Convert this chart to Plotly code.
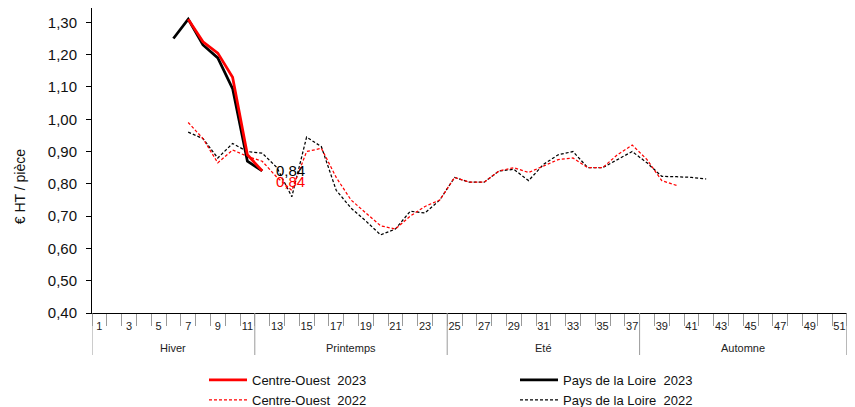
import plotly.graph_objects as go

# ---------------- data ----------------
weeks = list(range(1, 53))
week_labels = [str(w) for w in weeks if w % 2 == 1]
week_label_pos = [w for w in weeks if w % 2 == 1]

seasons = ["Hiver", "Printemps", "Eté", "Automne"]
season_first_week = [1, 12, 25, 38]
season_last_week = [11, 24, 37, 51]

co_2023_weeks = [7, 8, 9, 10, 11, 12]
co_2023 = [1.31, 1.24, 1.205, 1.13, 0.89, 0.84]

pdl_2023_weeks = [6, 7, 8, 9, 10, 11, 12]
pdl_2023 = [1.25, 1.31, 1.23, 1.19, 1.095, 0.87, 0.84]

co_2022_weeks = list(range(7, 41))
co_2022 = [0.99, 0.94, 0.865, 0.905, 0.885, 0.87, 0.82, 0.78, 0.90, 0.91,
           0.82, 0.75, 0.71, 0.67, 0.66, 0.70, 0.73, 0.75, 0.82, 0.805,
           0.805, 0.84, 0.85, 0.835, 0.855, 0.875, 0.88, 0.85, 0.85, 0.89,
           0.92, 0.875, 0.81, 0.795]

pdl_2022_weeks = list(range(7, 43))
pdl_2022 = [0.96, 0.94, 0.88, 0.925, 0.90, 0.895, 0.85, 0.76, 0.945, 0.915,
            0.78, 0.725, 0.685, 0.642, 0.66, 0.715, 0.71, 0.75, 0.82, 0.805,
            0.805, 0.84, 0.845, 0.81, 0.86, 0.89, 0.90, 0.85, 0.85, 0.875,
            0.90, 0.865, 0.823, 0.822, 0.82, 0.815]

y_ticks = [0.40, 0.50, 0.60, 0.70, 0.80, 0.90, 1.00, 1.10, 1.20, 1.30]

RED = "#ff0000"
BLACK = "#000000"
FONT = "Liberation Sans, Arial, sans-serif"

# page body adds an 8px offset; figure sized to fit the window
W, H = 847, 399
ML, MR, MT, MB = 84, 0, 0, 94
plot_h = H - MT - MB
plot_w = W - ML - MR

fig = go.Figure()

# draw order: dashed first, then solid (red on top)
fig.add_trace(go.Scatter(x=pdl_2022_weeks, y=pdl_2022, mode="lines",
                         name="Pays de la Loire\u00a0 2022", legendrank=4,
                         line=dict(color=BLACK, width=1.25, dash="3px,2px")))
fig.add_trace(go.Scatter(x=co_2022_weeks, y=co_2022, mode="lines",
                         name="Centre-Ouest\u00a0 2022", legendrank=3,
                         line=dict(color=RED, width=1.25, dash="3px,2px")))
fig.add_trace(go.Scatter(x=pdl_2023_weeks, y=pdl_2023, mode="lines",
                         name="Pays de la Loire\u00a0 2023", legendrank=2,
                         line=dict(color=BLACK, width=2.75)))
fig.add_trace(go.Scatter(x=co_2023_weeks, y=co_2023, mode="lines",
                         name="Centre-Ouest\u00a0 2023", legendrank=1,
                         line=dict(color=RED, width=2.75)))

def fmt(v):
    return f"{v:.2f}".replace(".", ",")

# data labels at last 2023 points
fig.add_annotation(x=pdl_2023_weeks[-1], y=pdl_2023[-1], xref="x", yref="y",
                   text=fmt(pdl_2023[-1]), showarrow=False, xanchor="left",
                   yanchor="middle", xshift=12, yshift=0,
                   font=dict(family=FONT, size=15, color=BLACK))
fig.add_annotation(x=co_2023_weeks[-1], y=co_2023[-1], xref="x", yref="y",
                   text=fmt(co_2023[-1]), showarrow=False, xanchor="left",
                   yanchor="middle", xshift=12, yshift=-11,
                   font=dict(family=FONT, size=15, color=RED))

# season grouping on the category axis
div_bottom = -42 / plot_h
label_y = -35 / plot_h
boundaries = [season_first_week[0] - 0.5] + [w + 0.5 for w in season_last_week]
for b in boundaries:
    fig.add_shape(type="line", xref="x", yref="paper", x0=b, x1=b,
                  y0=0, y1=div_bottom, line=dict(color="#9a9a9a", width=1))
for name, a, b in zip(seasons, season_first_week, season_last_week):
    fig.add_annotation(x=(a + b) / 2, y=label_y, xref="x", yref="paper",
                       text=name, showarrow=False, yanchor="middle",
                       font=dict(family=FONT, size=11, color="#222"))

# y axis title
fig.add_annotation(x=(12 - ML) / plot_w, y=(305.3 - 179.5) / plot_h,
                   xref="paper", yref="paper",
                   text="€ HT / pièce", textangle=-90, showarrow=False,
                   xanchor="center", yanchor="middle",
                   font=dict(family=FONT, size=14, color="#111"))

fig.update_layout(
    width=W, height=H,
    margin=dict(l=ML, r=MR, t=MT, b=MB, pad=0),
    plot_bgcolor="white", paper_bgcolor="white",
    separators=", ",
    font=dict(family=FONT, color="#111"),
    showlegend=True,
    legend=dict(orientation="h", xref="container", yref="container",
                x=196 / W, y=1 - 357 / H, xanchor="left", yanchor="top",
                itemwidth=38, entrywidth=258, entrywidthmode="pixels",
                font=dict(family=FONT, size=13, color="#111"),
                bgcolor="rgba(0,0,0,0)", tracegroupgap=0),
    xaxis=dict(range=[0.5, 0.5 + plot_w / 14.8], showgrid=False, zeroline=False,
               showline=True, linecolor=BLACK, linewidth=1,
               tickmode="array", tickvals=week_label_pos, ticktext=week_labels,
               ticks="", tickfont=dict(family=FONT, size=11, color="#222"),
               ticklabelstandoff=3, automargin=False,
               minor=dict(ticks="outside", tick0=0.5, dtick=1, ticklen=12,
                          tickcolor="#9a9a9a", tickwidth=1, showgrid=False)),
    yaxis=dict(range=[0.40, 0.40 + plot_h / 322.9], showgrid=False, zeroline=False,
               showline=True, linecolor=BLACK, linewidth=1,
               tickmode="array", tickvals=y_ticks, tickformat=".2f",
               ticks="outside", ticklen=5, tickcolor=BLACK,
               tickfont=dict(family=FONT, size=15, color="#111"),
               ticklabelstandoff=6, automargin=False),
)

fig.write_html("out.html")
